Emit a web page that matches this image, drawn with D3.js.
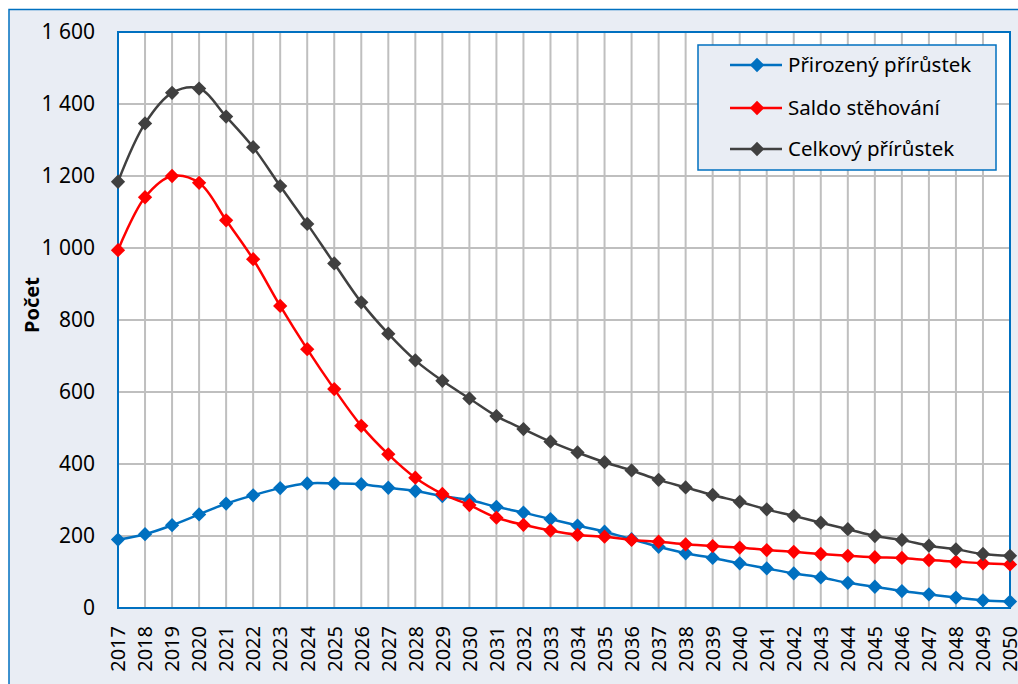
<!DOCTYPE html>
<html><head><meta charset="utf-8">
<script src="https://cdn.jsdelivr.net/npm/d3@7"></script>
<style>body{margin:0;background:#fff}svg{display:block}</style>
</head><body>
<svg id="c" width="1018" height="684"></svg>
<script>
const years = d3.range(2017, 2051);
const seriesNames = ["Přirozený přírůstek", "Saldo stěhování", "Celkový přírůstek"];
const prirozeny = [190,205,230,260,290,313,333,346,346,344,334,325,311,300,281,265,247,229,212,191,170,152,139,124,110,96,85,70,59,47,38,29,21,18];
const saldo = [994,1141,1200,1181,1077,969,839,719,608,506,427,362,317,286,251,231,215,203,198,189,184,177,172,168,161,156,150,145,141,139,133,129,124,121];
const celkovy = [1184,1346,1431,1443,1365,1280,1172,1067,957,849,762,688,631,582,533,497,462,432,405,382,356,335,314,295,274,256,237,219,200,189,173,163,150,145];
const yTicks = [0,200,400,600,800,1000,1200,1400,1600];
const colors = ["#0070C0", "#FF0000", "#404040"];
const yTitle = "Počet";

const svg = d3.select("#c");
const W = 1018, H = 684;
const L = 118, R = 1010, T = 32, B = 608;
const font = "'Noto Sans', sans-serif";

svg.append("rect").attr("x", 9).attr("y", 9.5).attr("width", W + 20).attr("height", H + 20)
  .attr("fill", "#E9EDF4").attr("stroke", "#0070C0").attr("stroke-width", 1.5);

const x = d3.scaleLinear().domain([2017, 2050]).range([L, R]);
const y = d3.scaleLinear().domain([0, 1600]).range([B, T]);

svg.append("rect").attr("x", L).attr("y", T).attr("width", R - L).attr("height", B - T).attr("fill", "#fff");

// grid
const g = svg.append("g");
g.selectAll("line.v").data(years).join("line")
  .attr("x1", d => x(d)).attr("x2", d => x(d)).attr("y1", T).attr("y2", B)
  .attr("stroke", "#BFBFBF").attr("stroke-width", 2);
g.selectAll("line.h").data(yTicks).join("line")
  .attr("x1", L).attr("x2", R).attr("y1", d => y(d)).attr("y2", d => y(d))
  .attr("stroke", "#BFBFBF").attr("stroke-width", 2);

// plot border
svg.append("rect").attr("x", L).attr("y", T).attr("width", R - L).attr("height", B - T)
  .attr("fill", "none").attr("stroke", "#0070C0").attr("stroke-width", 2);

// y axis labels
const fmt = v => d3.format(",")(v).replace(/,/g, " ");
const yAxis = d3.axisLeft(y).tickValues(yTicks).tickFormat(fmt).tickSize(0).tickPadding(23);
const ya = svg.append("g").attr("transform", `translate(${L},0)`).call(yAxis);
ya.select(".domain").remove();
ya.selectAll("text").attr("font-family", font).attr("font-size", 21).attr("fill", "#000");

// x axis labels
const xAxis = d3.axisBottom(x).tickValues(years).tickFormat(d3.format("d")).tickSize(0);
const xa = svg.append("g").attr("transform", `translate(0,${B})`).call(xAxis);
xa.select(".domain").remove();
xa.selectAll("text").attr("font-family", font).attr("font-size", 20).attr("fill", "#000")
  .attr("text-anchor", "end").attr("transform", "rotate(-90)")
  .attr("x", -18).attr("y", 0).attr("dy", "0.34em");

// y title
svg.append("text").attr("transform", "translate(39,305) rotate(-90)")
  .attr("text-anchor", "middle").attr("font-family", font).attr("font-size", 20)
  .attr("font-weight", "bold").text(yTitle);

// series
const all = [prirozeny, saldo, celkovy];
const line = d3.line().x((d, i) => x(years[i])).y(d => y(d)).curve(d3.curveCatmullRom.alpha(0.5));
const diamond = d3.symbol().type(d3.symbolDiamond2).size(130);
all.forEach((s, k) => {
  svg.append("path").attr("d", line(s)).attr("fill", "none").attr("stroke", colors[k]).attr("stroke-width", 2.5);
  svg.append("g").selectAll("path").data(s).join("path")
    .attr("d", diamond).attr("transform", (d, i) => `translate(${x(years[i])},${y(d)})`)
    .attr("fill", colors[k]);
});

// legend
const lg = svg.append("g");
lg.append("rect").attr("x", 698).attr("y", 45).attr("width", 298).attr("height", 125)
  .attr("fill", "#E9EDF4").attr("stroke", "#0070C0").attr("stroke-width", 1.5);
const ly = [65, 108, 149];
seriesNames.forEach((n, k) => {
  lg.append("line").attr("x1", 730).attr("x2", 782).attr("y1", ly[k]).attr("y2", ly[k])
    .attr("stroke", colors[k]).attr("stroke-width", 2.5);
  lg.append("path").attr("d", diamond).attr("transform", `translate(757,${ly[k]})`).attr("fill", colors[k]);
  lg.append("text").attr("x", 788).attr("y", ly[k]).attr("dy", "0.35em")
    .attr("font-family", font).attr("font-size", 20.5).attr("fill", "#000").text(n);
});
</script>
</body></html>
